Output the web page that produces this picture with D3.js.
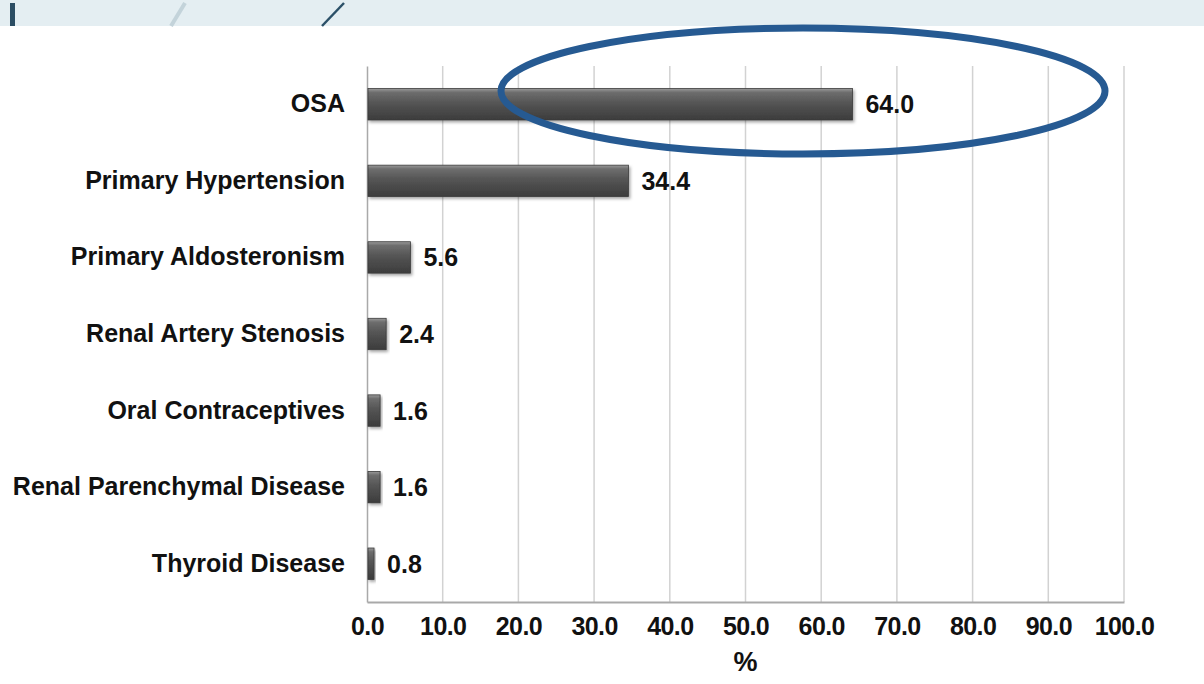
<!DOCTYPE html>
<html>
<head>
<meta charset="utf-8">
<script src="https://cdn.jsdelivr.net/npm/d3@7/dist/d3.min.js"></script>
<style>
  html, body { margin: 0; padding: 0; background: #fff; }
  svg { display: block; }
  text { font-family: "Liberation Sans", Arial, sans-serif; font-weight: bold; fill: #111; }
</style>
</head>
<body>
<svg id="chart" width="1204" height="684"></svg>
<script>
// Causes of resistant hypertension (%)
const categories = ["OSA", "Primary Hypertension", "Primary Aldosteronism", "Renal Artery Stenosis",
  "Oral Contraceptives", "Renal Parenchymal Disease", "Thyroid Disease"];
const values = [64.0, 34.4, 5.6, 2.4, 1.6, 1.6, 0.8];
const tickValues = [0, 10, 20, 30, 40, 50, 60, 70, 80, 90, 100];
const axisTitle = "%";

const svg = d3.select("#chart");
const W = 1204, H = 684;
const margin = { left: 367, right: 80, top: 66, bottom: 82 };

// Header band
svg.append("rect").attr("x", 0).attr("y", 0).attr("width", W).attr("height", 26).attr("fill", "#e4eef2");
svg.append("rect").attr("x", 10).attr("y", 3).attr("width", 5).attr("height", 23).attr("fill", "#2b4d63");
svg.append("line").attr("x1", 185).attr("y1", 3).attr("x2", 171).attr("y2", 26)
  .attr("stroke", "#c3d3da").attr("stroke-width", 4);
svg.append("line").attr("x1", 344).attr("y1", 3).attr("x2", 322).attr("y2", 26)
  .attr("stroke", "#2b5068").attr("stroke-width", 2.5);

const x = d3.scaleLinear().domain([0, 100]).range([margin.left, W - margin.right]);
const y = d3.scaleBand().domain(categories).range([margin.top, H - margin.bottom]).paddingInner(0.59).paddingOuter(0.295);

const defs = svg.append("defs");
const grad = defs.append("linearGradient").attr("id", "barGrad").attr("x1", 0).attr("y1", 0).attr("x2", 0).attr("y2", 1);
grad.append("stop").attr("offset", "0%").attr("stop-color", "#9a9a9a");
grad.append("stop").attr("offset", "12%").attr("stop-color", "#6e6e6e");
grad.append("stop").attr("offset", "45%").attr("stop-color", "#555");
grad.append("stop").attr("offset", "100%").attr("stop-color", "#3c3c3c");
const shadow = defs.append("filter").attr("id", "shadow").attr("x", "-10%").attr("y", "-20%").attr("width", "130%").attr("height", "160%");
shadow.append("feDropShadow").attr("dx", 1.5).attr("dy", 2).attr("stdDeviation", 1.5).attr("flood-color", "#000").attr("flood-opacity", 0.35);

// Vertical gridlines
svg.append("g").selectAll("line").data(tickValues.slice(1)).join("line")
  .attr("x1", d => x(d)).attr("x2", d => x(d))
  .attr("y1", margin.top).attr("y2", H - margin.bottom)
  .attr("stroke", "#d2d2d2").attr("stroke-width", 1.5);

// Axes
const xAxis = d3.axisBottom(x).tickValues(tickValues).tickFormat(d3.format(".1f")).tickSize(0).tickPadding(15);
const gx = svg.append("g").attr("transform", `translate(0,${H - margin.bottom})`).call(xAxis);
gx.select(".domain").attr("stroke", "#a9a9a9").attr("stroke-width", 2);
gx.selectAll("text").attr("font-size", 25).style("letter-spacing", "-0.6px").attr("fill", "#111");

const yAxis = d3.axisLeft(y).tickSize(0).tickPadding(22);
const gy = svg.append("g").attr("transform", `translate(${margin.left},0)`).call(yAxis);
gy.select(".domain").attr("stroke", "#a9a9a9").attr("stroke-width", 1.5);
gy.selectAll("text").attr("font-size", 25).attr("fill", "#111");

// Bars
svg.append("g").selectAll("rect").data(categories).join("rect")
  .attr("x", x(0) + 1)
  .attr("y", d => y(d))
  .attr("width", (d, i) => x(values[i]) - x(0))
  .attr("height", y.bandwidth())
  .attr("fill", "url(#barGrad)")
  .attr("stroke", "#3a3a3a").attr("stroke-width", 0.8)
  .attr("filter", "url(#shadow)");

// Value labels
svg.append("g").selectAll("text").data(categories).join("text")
  .attr("x", (d, i) => x(values[i]) + 14)
  .attr("y", d => y(d) + y.bandwidth() / 2)
  .attr("dy", "0.36em")
  .attr("font-size", 25)
  .text((d, i) => values[i].toFixed(1));

// Axis title
svg.append("text").attr("x", (x(0) + x(100)) / 2).attr("y", 671)
  .attr("text-anchor", "middle").attr("font-size", 27).text(axisTitle);

// Highlight ring around the top value
svg.append("ellipse").attr("cx", 803).attr("cy", 91).attr("rx", 302).attr("ry", 63)
  .attr("fill", "none").attr("stroke", "#265a92").attr("stroke-width", 7);
</script>
</body>
</html>
